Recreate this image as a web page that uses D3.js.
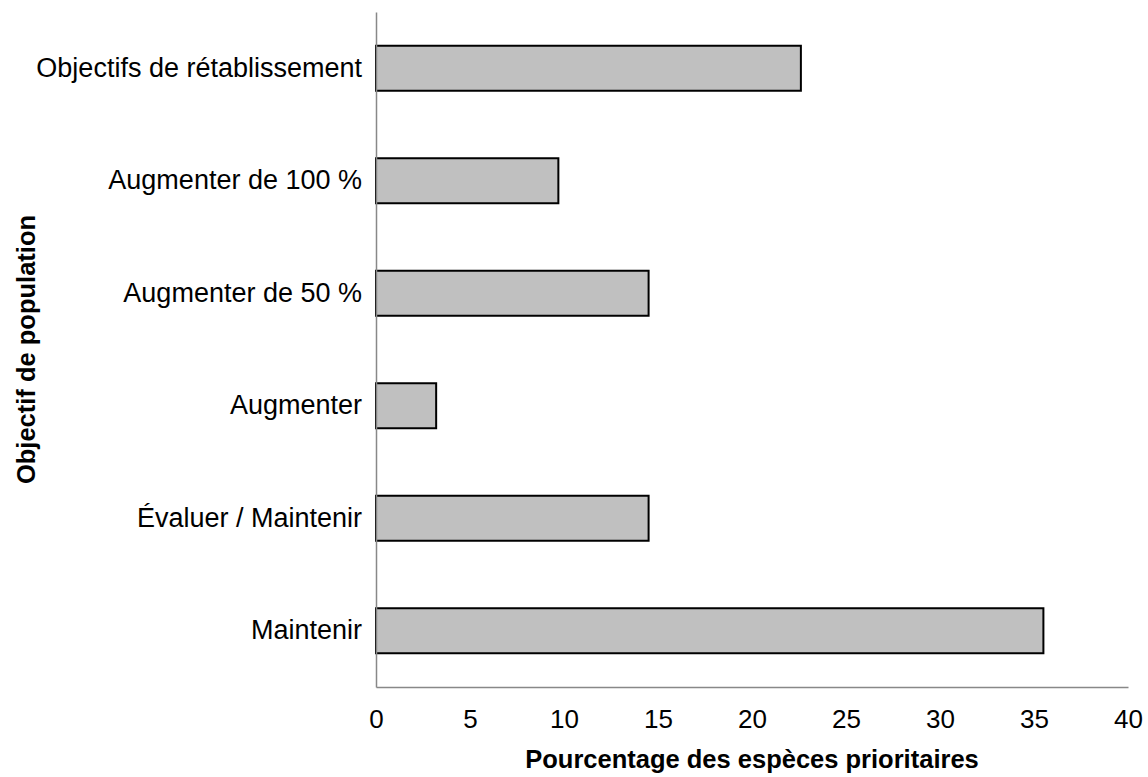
<!DOCTYPE html>
<html>
<head>
<meta charset="utf-8">
<script src="https://cdn.jsdelivr.net/npm/d3@7"></script>
<style>
  body { margin: 0; background: #fff; }
  text { font-family: "Liberation Sans", Arial, sans-serif; }
</style>
</head>
<body>
<svg id="chart" width="1148" height="777"></svg>
<script>
// Catégories (de haut en bas) et valeurs en %
const categories = ['Objectifs de rétablissement', 'Augmenter de 100 %', 'Augmenter de 50 %', 'Augmenter', 'Évaluer / Maintenir', 'Maintenir'];
const values = [22.6, 9.7, 14.5, 3.2, 14.5, 35.5];
const xTicks = [0, 5, 10, 15, 20, 25, 30, 35, 40];

const svg = d3.select('#chart');

// Dimensions du graphique
const margin = { left: 376, right: 20, top: 12, bottom: 90 };
const width = 1148 - margin.left - margin.right;
const height = 777 - margin.top - margin.bottom;

const g = svg.append('g').attr('transform', `translate(${margin.left},${margin.top})`);

// Échelles
const x = d3.scaleLinear().domain([0, 40]).range([0, width]);
const y = d3.scaleBand().domain(categories).range([0, height])
  .paddingInner(0.6).paddingOuter(0.3);

// Barres
g.selectAll('.bar')
  .data(categories)
  .enter()
  .append('rect')
  .attr('class', 'bar')
  .attr('x', 0)
  .attr('y', d => y(d))
  .attr('width', (d, i) => x(values[i]))
  .attr('height', y.bandwidth())
  .attr('fill', '#c0c0c0')
  .attr('stroke', '#000')
  .attr('stroke-width', 2);

// Axe X
const xAxis = g.append('g')
  .attr('transform', `translate(0,${height})`)
  .call(d3.axisBottom(x).tickValues(xTicks).tickSize(0).tickPadding(23));
xAxis.select('.domain').attr('stroke', '#888').attr('stroke-width', 1.5);
xAxis.selectAll('text').attr('font-size', 26).attr('fill', '#000')
  .style('font-family', '"Liberation Sans", Arial, sans-serif');

// Axe Y
const yAxis = g.append('g')
  .call(d3.axisLeft(y).tickSize(0).tickPadding(14));
yAxis.select('.domain').attr('stroke', '#888').attr('stroke-width', 1.5);
yAxis.selectAll('text').attr('font-size', 27).attr('fill', '#000')
  .style('font-family', '"Liberation Sans", Arial, sans-serif');

// Titres des axes
svg.append('text')
  .attr('x', margin.left + width / 2)
  .attr('y', 768)
  .attr('text-anchor', 'middle')
  .attr('font-size', 25.5)
  .attr('font-weight', 'bold')
  .text('Pourcentage des espèces prioritaires');

svg.append('text')
  .attr('transform', `translate(35,${margin.top + height / 2}) rotate(-90)`)
  .attr('text-anchor', 'middle')
  .attr('font-size', 25.5)
  .attr('font-weight', 'bold')
  .text('Objectif de population');
</script>
</body>
</html>
